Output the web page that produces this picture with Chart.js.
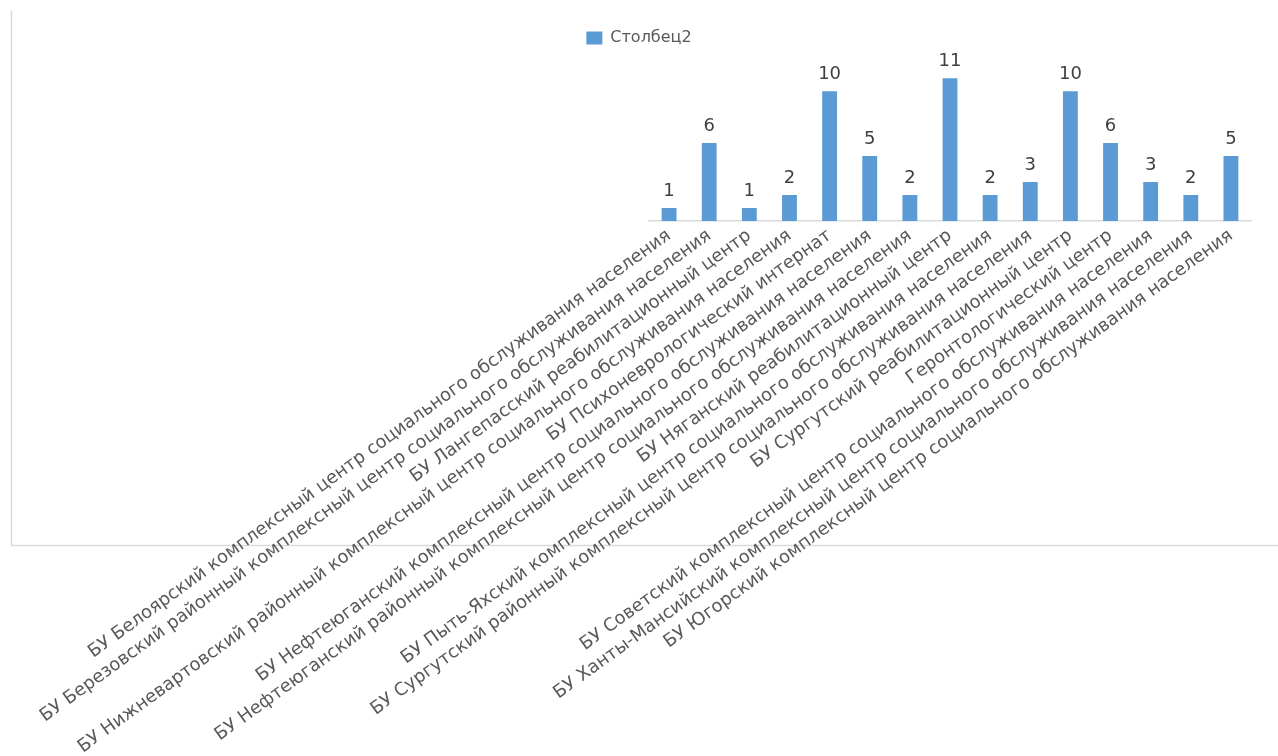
<!DOCTYPE html>
<html>
<head>
<meta charset="utf-8">
<script src="https://cdn.jsdelivr.net/npm/chart.js@4.4.0/dist/chart.umd.min.js"></script>
<style>
  html, body { margin: 0; padding: 0; background: #ffffff; }
  #wrap { width: 1278px; height: 756px; position: relative; }
</style>
</head>
<body>
<div id="wrap"><canvas id="chart"></canvas></div>
<script>
// ---- data ----
const categories = [
  'БУ Белоярский комплексный центр социального обслуживания населения',
  'БУ Березовский районный комплексный центр социального обслуживания населения',
  'БУ Лангепасский реабилитационный центр',
  'БУ Нижневартовский районный комплексный центр социального обслуживания населения',
  'БУ Психоневрологический интернат',
  'БУ Нефтеюганский комплексный центр социального обслуживания населения',
  'БУ Нефтеюганский районный комплексный центр социального обслуживания населения',
  'БУ Няганский реабилитационный центр',
  'БУ Пыть-Яхский комплексный центр социального обслуживания населения',
  'БУ Сургутский районный комплексный центр социального обслуживания населения',
  'БУ Сургутский реабилитационный центр',
  'Геронтологический центр',
  'БУ Советский комплексный центр социального обслуживания населения',
  'БУ Ханты-Мансийский комплексный центр социального обслуживания населения',
  'БУ Югорский комплексный центр социального обслуживания населения'
];
const seriesName = 'Столбец2';
const seriesValues = [1, 6, 1, 2, 10, 5, 2, 11, 2, 3, 10, 6, 3, 2, 5];
const yMin = 0;
const yMax = 12;

// ---- styling / layout ----
const BAR_COLOR = '#5b9bd5';
const TEXT_GRAY = '#595959';
const LINE_GRAY = '#d9d9d9';
const CANVAS_H = 756;
const PLOT_LEFT = 649;
const PLOT_RIGHT_MARGIN = 27;
const PLOT_BOTTOM = 221;

const framePlugin = {
  id: 'frame',
  beforeDraw(chart) {
    const ctx = chart.ctx;
    ctx.save();
    ctx.strokeStyle = LINE_GRAY;
    ctx.lineWidth = 1.5;
    ctx.beginPath();
    ctx.moveTo(11.5, 11);
    ctx.lineTo(11.5, 545.5);
    ctx.lineTo(chart.width, 545.5);
    ctx.stroke();
    ctx.restore();
  }
};

const valueLabels = {
  id: 'valueLabels',
  afterDatasetsDraw(chart) {
    const ctx = chart.ctx;
    ctx.save();
    ctx.font = '18px "DejaVu Sans"';
    ctx.fillStyle = '#404040';
    ctx.textAlign = 'center';
    ctx.textBaseline = 'alphabetic';
    chart.data.datasets.forEach((ds, di) => {
      chart.getDatasetMeta(di).data.forEach((bar, i) => {
        ctx.fillText(String(ds.data[i]), bar.x, bar.y - 12);
      });
    });
    ctx.restore();
  }
};

new Chart(document.getElementById('chart'), {
  type: 'bar',
  data: {
    labels: categories,
    datasets: [{
      label: seriesName,
      data: seriesValues,
      backgroundColor: BAR_COLOR,
      borderWidth: 0,
      barPercentage: 0.37,
      categoryPercentage: 1.0
    }]
  },
  options: {
    responsive: true,
    maintainAspectRatio: false,
    animation: false,
    layout: { padding: { top: 20, left: 0, right: 0, bottom: 0 } },
    plugins: {
      legend: {
        display: true,
        position: 'top',
        labels: {
          boxWidth: 16,
          boxHeight: 13,
          padding: 10,
          color: TEXT_GRAY,
          font: { family: '"DejaVu Sans"', size: 16 }
        }
      },
      title: {
        display: true,
        text: '',
        weight: 999,
        padding: { top: 0, bottom: 8 },
        font: { size: 1 }
      },
      tooltip: { enabled: false }
    },
    scales: {
      x: {
        grid: { display: false, drawTicks: false },
        border: { display: true, color: LINE_GRAY, width: 1.5 },
        ticks: {
          autoSkip: false,
          minRotation: 36,
          maxRotation: 36,
          padding: 4,
          color: TEXT_GRAY,
          font: { family: '"DejaVu Sans"', size: 18 }
        },
        afterFit(scale) {
          scale.paddingLeft = PLOT_LEFT;
          scale.paddingRight = PLOT_RIGHT_MARGIN;
          scale.height = CANVAS_H - PLOT_BOTTOM;
        }
      },
      y: {
        display: false,
        min: yMin,
        max: yMax
      }
    }
  },
  plugins: [framePlugin, valueLabels]
});
</script>
</body>
</html>
